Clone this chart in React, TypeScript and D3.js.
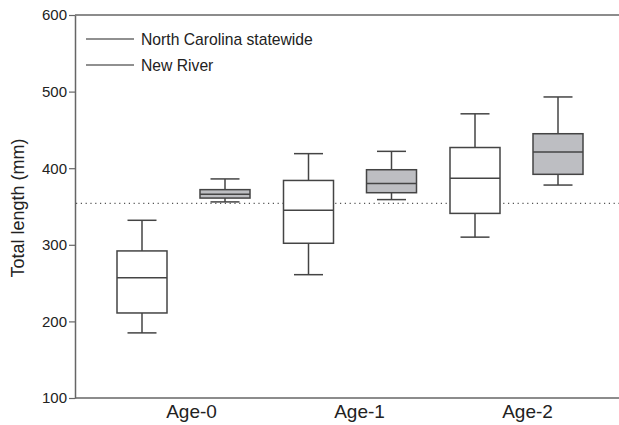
import React, { useEffect, useRef } from "react";
import * as d3 from "d3";

// age groups on the x axis
const ages = ["Age-0", "Age-1", "Age-2"];
const seriesNames = ["North Carolina statewide", "New River"];

// [whisker low, q1, median, q3, whisker high] per age
const statewide = [
  [185, 211, 257, 292, 332],
  [261, 302, 345, 384, 419],
  [310, 341, 387, 427, 471],
];
const newRiver = [
  [356, 361, 366, 372, 386],
  [359, 368, 380, 398, 422],
  [378, 392, 421, 445, 493],
];

const yTicks = [100, 200, 300, 400, 500, 600];
const refLine = 354; // dotted reference

const W = 619, H = 425;

export default function App() {
  const ref = useRef<SVGSVGElement>(null);

  useEffect(() => {
    const svg = d3.select(ref.current);
    svg.selectAll("*").remove();

    const y = d3.scaleLinear().domain([100, 600]).range([398, 15]);
    const x = d3.scalePoint().domain(ages).range([183.5, 516.5]);
    // category labels sit a little right of the box pairs in the original
    const xLab = d3.scalePoint().domain(ages).range([191, 527]);
    const off = 41.5, boxW = 50, capW = 29;
    const axisCol = "#666", boxCol = "#444";
    const font = "Liberation Sans, Arial, sans-serif";

    // dotted reference line
    svg.append("line")
      .attr("x1", 76).attr("x2", W)
      .attr("y1", y(refLine)).attr("y2", y(refLine))
      .attr("stroke", "#555").attr("stroke-width", 1.2)
      .attr("stroke-dasharray", "1.2,3.6");

    const series = [
      { data: statewide, dx: -off, fill: "#fff" },
      { data: newRiver, dx: off, fill: "#bdbec2" },
    ];

    series.forEach(s => {
      const g = svg.append("g");
      s.data.forEach((d, i) => {
        const cx = (x(ages[i]) as number) + s.dx;
        const [lo, q1, med, q3, hi] = d;
        // whiskers
        g.append("line").attr("x1", cx).attr("x2", cx)
          .attr("y1", y(hi)).attr("y2", y(q3))
          .attr("stroke", boxCol).attr("stroke-width", 1.5);
        g.append("line").attr("x1", cx).attr("x2", cx)
          .attr("y1", y(q1)).attr("y2", y(lo))
          .attr("stroke", boxCol).attr("stroke-width", 1.5);
        [hi, lo].forEach(v => {
          g.append("line").attr("x1", cx - capW / 2).attr("x2", cx + capW / 2)
            .attr("y1", y(v)).attr("y2", y(v))
            .attr("stroke", boxCol).attr("stroke-width", 1.5);
        });
        g.append("rect")
          .attr("x", cx - boxW / 2).attr("width", boxW)
          .attr("y", y(q3)).attr("height", y(q1) - y(q3))
          .attr("fill", s.fill).attr("stroke", boxCol).attr("stroke-width", 1.5);
        g.append("line").attr("x1", cx - boxW / 2).attr("x2", cx + boxW / 2)
          .attr("y1", y(med)).attr("y2", y(med))
          .attr("stroke", boxCol).attr("stroke-width", 1.5);
      });
    });

    // axes
    const yAxis = svg.append("g").attr("transform", "translate(75,0)")
      .call(d3.axisLeft(y).tickValues(yTicks).tickSize(6).tickSizeOuter(0).tickPadding(2));
    yAxis.select(".domain").attr("stroke", axisCol).attr("stroke-width", 1.5);
    yAxis.selectAll(".tick line").attr("stroke", axisCol).attr("stroke-width", 1.2);
    yAxis.selectAll(".tick text").attr("font-family", font).attr("font-size", 15).attr("fill", "#222");

    svg.append("line").attr("x1", 75).attr("x2", W).attr("y1", 15).attr("y2", 15)
      .attr("stroke", axisCol).attr("stroke-width", 1.5);

    const xAxis = svg.append("g").attr("transform", "translate(0,398)")
      .call(d3.axisBottom(xLab).tickSize(0).tickPadding(7));
    xAxis.select(".domain").attr("d", `M75,0H${W}`).attr("stroke", axisCol).attr("stroke-width", 1.5);
    xAxis.selectAll(".tick text").attr("font-family", font).attr("font-size", 19).attr("fill", "#222");

    svg.append("text")
      .attr("transform", `translate(24,208) rotate(-90)`)
      .attr("text-anchor", "middle")
      .attr("font-family", font).attr("font-size", 18).attr("fill", "#222")
      .text("Total length (mm)");

    // legend
    seriesNames.forEach((n, i) => {
      const ly = 39 + i * 26;
      svg.append("line").attr("x1", 86).attr("x2", 134).attr("y1", ly).attr("y2", ly)
        .attr("stroke", "#222").attr("stroke-width", 1.2);
      svg.append("text").attr("x", 141).attr("y", ly + 5.5)
        .attr("font-family", font).attr("font-size", 15.7).attr("fill", "#222")
        .text(n);
    });
  }, []);

  return (
    <svg ref={ref} width={W} height={H}
      style={{ position: "absolute", left: 0, top: 0, background: "#fff" }} />
  );
}
